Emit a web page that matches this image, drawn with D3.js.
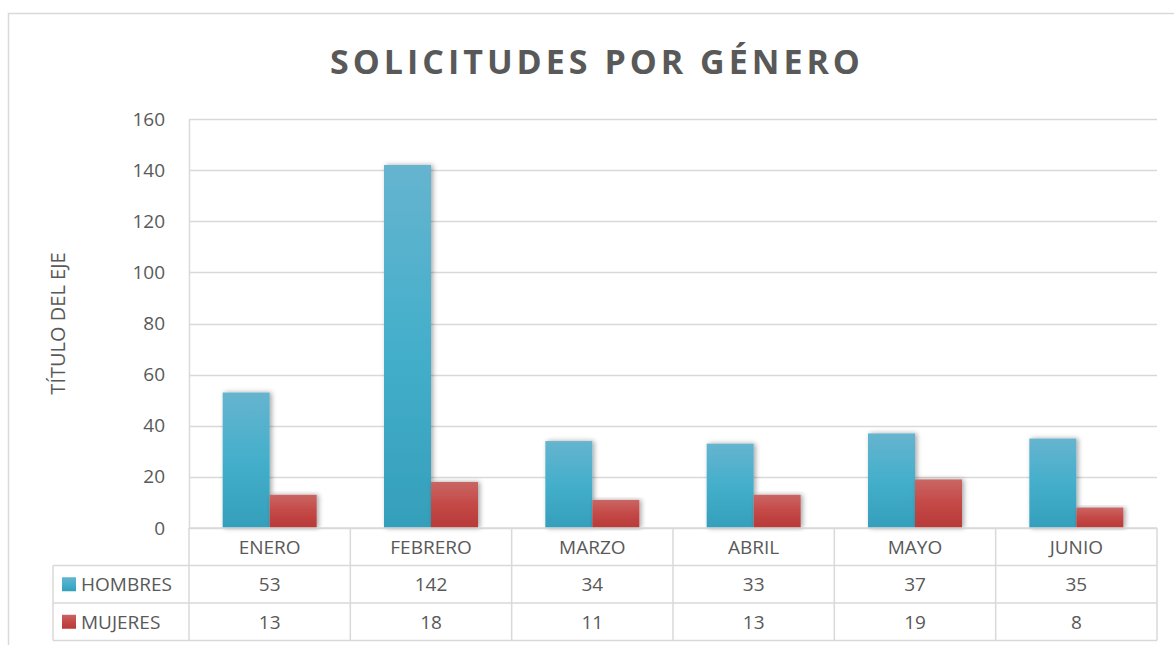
<!DOCTYPE html>
<html>
<head>
<meta charset="utf-8">
<script src="https://cdn.jsdelivr.net/npm/d3@7"></script>
<style>
  body { margin: 0; background: #fff; }
  svg text { font-family: "Open Sans", "Lato", sans-serif; fill: #595959; }
</style>
</head>
<body>
<div id="chart"></div>
<script>
// data
var months = ["ENERO", "FEBRERO", "MARZO", "ABRIL", "MAYO", "JUNIO"];
var seriesNames = ["HOMBRES", "MUJERES"];
var hombres = [53, 142, 34, 33, 37, 35];
var mujeres = [13, 18, 11, 13, 19, 8];
var yTicks = [0, 20, 40, 60, 80, 100, 120, 140, 160];

var W = 1174, H = 645;
var plotLeft = 189, plotRight = 1157, plotTop = 119, plotBottom = 528;
var rowH = 37.5;
var tableLeft = 53;

var svg = d3.select('#chart').append('svg').attr('width', W).attr('height', H);

var defs = svg.append('defs');
function grad(id, c1, c2, c3) {
	var g = defs.append('linearGradient').attr('id', id).attr('x1', 0).attr('y1', 0).attr('x2', 0).attr('y2', 1);
	g.append('stop').attr('offset', '0%').attr('stop-color', c1);
	g.append('stop').attr('offset', '50%').attr('stop-color', c2);
	g.append('stop').attr('offset', '100%').attr('stop-color', c3);
}
grad('gH', '#66b4cf', '#44afcb', '#359fbb');
grad('gM', '#c96663', '#c44846', '#b73a38');
var f = defs.append('filter').attr('id', 'shadow').attr('x', -0.3).attr('y', -0.1).attr('width', 1.6).attr('height', 1.2);
f.append('feDropShadow').attr('dx', 2).attr('dy', 0).attr('stdDeviation', 2.5).attr('flood-color', '#000').attr('flood-opacity', 0.35);

// outer frame
svg.append('path')
	.attr('d', 'M8.5,' + H + ' V13.5 H' + W)
	.attr('fill', 'none').attr('stroke', '#d9d9d9').attr('stroke-width', 1.5);

// title
svg.append('text')
	.attr('x', 597).attr('y', 74)
	.attr('text-anchor', 'middle')
	.style('font-size', '34px').style('font-weight', 'bold').style('letter-spacing', '4px')
	.text('SOLICITUDES POR GÉNERO');

var x = d3.scaleBand().domain(months).range([plotLeft, plotRight]);
var xs = d3.scaleBand().domain(seriesNames).range([0, 94]);
var y = d3.scaleLinear().domain([0, 160]).range([plotBottom, plotTop]);

// gridlines
svg.append('g').selectAll('line').data(yTicks).enter().append('line')
	.attr('x1', plotLeft).attr('x2', plotRight)
	.attr('y1', function(d) { return Math.round(y(d)) + 0.5; })
	.attr('y2', function(d) { return Math.round(y(d)) + 0.5; })
	.attr('stroke', '#d9d9d9').attr('stroke-width', 1.5);

// y axis
var yAxis = svg.append('g').attr('transform', 'translate(' + plotLeft + ',0)')
	.call(d3.axisLeft(y).tickValues(yTicks).tickSize(0).tickPadding(24));
yAxis.select('.domain').attr('stroke', '#d9d9d9').attr('stroke-width', 1.5);
yAxis.selectAll('text').style('font-size', '19px').style('font-family', '"Open Sans", sans-serif').attr('fill', '#595959');

svg.append('text')
	.attr('transform', 'translate(65,' + ((plotTop + plotBottom) / 2) + ') rotate(-90)')
	.attr('text-anchor', 'middle')
	.style('font-size', '20px')
	.text('TÍTULO DEL EJE');

// bars
var series = [hombres, mujeres];
var fills = ['url(#gH)', 'url(#gM)'];
series.forEach(function(vals, si) {
	svg.append('g').selectAll('rect').data(vals).enter().append('rect')
		.attr('x', function(d, i) { return x(months[i]) + (x.bandwidth() - 94) / 2 + xs(seriesNames[si]); })
		.attr('width', xs.bandwidth())
		.attr('y', function(d) { return y(d); })
		.attr('height', function(d) { return plotBottom - y(d); })
		.attr('fill', fills[si])
		.attr('filter', 'url(#shadow)');
});

// data table
var tg = svg.append('g');
var line = function(x1, y1, x2, y2) {
	tg.append('line').attr('x1', x1).attr('y1', y1).attr('x2', x2).attr('y2', y2)
		.attr('stroke', '#d9d9d9').attr('stroke-width', 1.5);
};
line(plotLeft, plotBottom, plotRight, plotBottom);
line(tableLeft, plotBottom + rowH, plotRight, plotBottom + rowH);
line(tableLeft, plotBottom + 2 * rowH, plotRight, plotBottom + 2 * rowH);
line(tableLeft, plotBottom + 3 * rowH, plotRight, plotBottom + 3 * rowH);
line(tableLeft, plotBottom + rowH, tableLeft, plotBottom + 3 * rowH);
line(plotLeft, plotBottom, plotLeft, plotBottom + 3 * rowH);
months.forEach(function(m) {
	line(x(m) + x.bandwidth(), plotBottom, x(m) + x.bandwidth(), plotBottom + 3 * rowH);
});

tg.selectAll('text.cat').data(months).enter().append('text')
	.attr('class', 'cat')
	.attr('x', function(d) { return x(d) + x.bandwidth() / 2; })
	.attr('y', plotBottom + rowH / 2 + 7)
	.attr('text-anchor', 'middle')
	.style('font-size', '19px')
	.text(function(d) { return d; });

var keyColors = ['url(#gH)', 'url(#gM)'];
series.forEach(function(vals, si) {
	var cy = plotBottom + rowH * (si + 1) + rowH / 2;
	tg.append('rect').attr('x', 62).attr('y', cy - 7).attr('width', 14).attr('height', 14).attr('fill', keyColors[si]);
	tg.append('text').attr('x', 81).attr('y', cy + 7).style('font-size', '19px').text(seriesNames[si]);
	tg.selectAll('text.v' + si).data(vals).enter().append('text')
		.attr('x', function(d, i) { return x(months[i]) + x.bandwidth() / 2; })
		.attr('y', cy + 7)
		.attr('text-anchor', 'middle')
		.style('font-size', '19px')
		.text(function(d) { return d; });
});
</script>
</body>
</html>
